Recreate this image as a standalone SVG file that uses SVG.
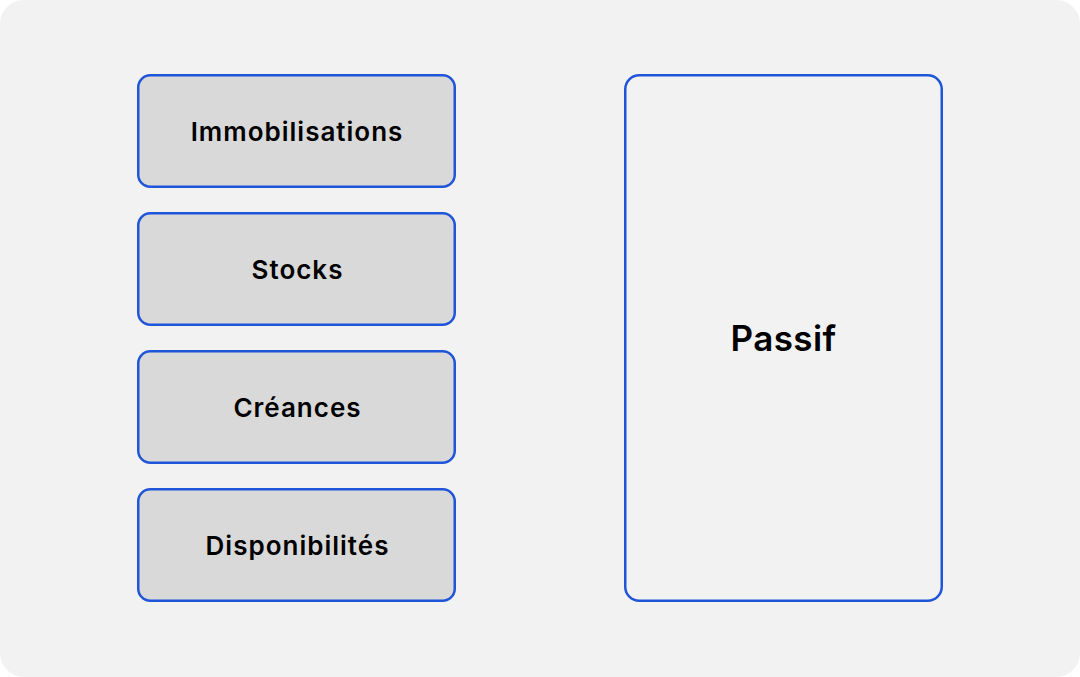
<svg xmlns="http://www.w3.org/2000/svg" width="1080" height="677" viewBox="0 0 1080 677">
<style>
.bg{fill:#f2f2f2}
.item{fill:#d9d9d9;stroke:#1f55d8;stroke-width:2.5}
.big{fill:#f2f2f2;stroke:#1f55d8;stroke-width:2.5}
.lbl{font-family:Inter,"Liberation Sans",sans-serif;font-weight:600;font-size:26px;letter-spacing:1px;fill:#000;text-anchor:middle;dominant-baseline:central}
.lblbig{font-family:Inter,"Liberation Sans",sans-serif;font-weight:600;font-size:35px;letter-spacing:0.4px;fill:#000;text-anchor:middle;dominant-baseline:central}
</style>
<rect width="1080" height="677" fill="#ffffff"/>
<rect class="bg" x="0" y="0" width="1080" height="677" rx="24"/>
<g id="immobilisations"><rect class="item" x="138.25" y="75.25" width="316.5" height="111.5" rx="12"/><text class="lbl" x="297" y="131">Immobilisations</text></g>
<g id="stocks"><rect class="item" x="138.25" y="213.25" width="316.5" height="111.5" rx="12"/><text class="lbl" x="297.5" y="269">Stocks</text></g>
<g id="creances"><rect class="item" x="138.25" y="351.25" width="316.5" height="111.5" rx="12"/><text class="lbl" x="297.5" y="407">Créances</text></g>
<g id="disponibilites"><rect class="item" x="138.25" y="489.25" width="316.5" height="111.5" rx="12"/><text class="lbl" x="297.5" y="545">Disponibilités</text></g>
<g id="passif"><rect class="big" x="625.25" y="75.25" width="316.5" height="525.5" rx="14"/><text class="lblbig" x="783.5" y="338">Passif</text></g>
<g id="connectors"></g>
</svg>
